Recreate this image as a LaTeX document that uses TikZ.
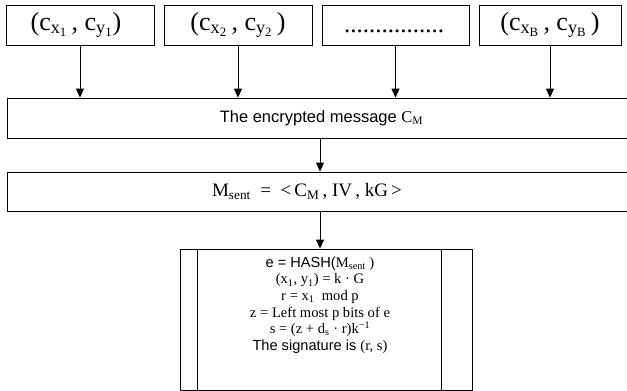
\documentclass[tikz,border=0pt]{standalone}
\usepackage{fontspec}
\setmainfont{Liberation Serif}
\newfontfamily\arialf{Liberation Sans}
\usetikzlibrary{arrows.meta}
\newcommand{\sbs}[1]{\textsubscript{#1}}
\newcommand{\sps}[1]{\textsuperscript{#1}}
\begin{document}
\begin{tikzpicture}[x=1pt,y=-1pt,line width=0.8pt,
  box/.style={draw,inner sep=0pt,minimum height=40pt},
  topbox/.style={box,minimum width=148pt},
  wide/.style={box,minimum width=625pt},
  toptext/.style={font=\fontsize{26}{30}\selectfont},
  arr/.style={-{Triangle[length=9pt,width=8pt]}}]
\useasboundingbox (0,0) rectangle (627,391);
% top boxes
\node[topbox] (b1) at (80,25) {};
\node[topbox] (b2) at (238,25) {};
\node[topbox,minimum width=147pt] (b3) at (395.5,25) {};
\node[topbox,minimum width=142pt] (b4) at (550,25) {};
\node[toptext] (t1) at (76,25) {(c\sbs{x\sbs{1}}\,, c\sbs{y\sbs{1}})};
\node[toptext] (t2) at (238,25) {(c\sbs{x\sbs{2}}\,, c\sbs{y\sbs{2}}\,)};
\node[font=\fontsize{25}{30}\selectfont] (t3) at (394,31) {................};
\node[toptext] (t4) at (550,25) {(c\sbs{x\sbs{B}}\,, c\sbs{y\sbs{B}}\,)};
% encrypted message
\node[wide] (enc) at (319.5,118) {};
\node[font=\fontsize{16.5}{19}\selectfont] (enct) at (321.5,118) {{\arialf The encrypted message }C\sbs{M}};
% M sent
\node[wide,minimum height=39pt] (ms) at (319.5,191.5) {};
\node[font=\fontsize{19}{22}\selectfont] (mst) at (307,191.5) {M\sbs{sent}\ \ =\ \ {<}\,C\sbs{M}\,, IV\,, kG\,{>}};
% bottom box
\node[box,minimum width=292pt,minimum height=141pt] (sig) at (326,319.5) {};
\coordinate (il) at (197,249);
\coordinate (ir) at (441,249);
\coordinate (ax) at (320,0);
\draw (il) -- (il |- sig.south);
\draw (ir) -- (ir |- sig.south);
\node[align=center,font=\fontsize{14.6}{16.6}\selectfont] (sigt) at (320,305) {%
{\arialf e = HASH(}M\sbs{sent} )\\
(x\sbs{1}, y\sbs{1}) = k · G\\
r = x\sbs{1}\ \ mod p\\
z = Left most p bits of e\\
s = (z + d\sbs{s} · r)k\sps{−1}\\
{\arialf The signature is }(r, s)};
% arrows
\draw[arr] (b1.south) -- (b1.south |- enc.north);
\draw[arr] (b2.south) -- (b2.south |- enc.north);
\draw[arr] (b3.south) -- (b3.south |- enc.north);
\draw[arr] (b4.south) -- (b4.south |- enc.north);
\draw[arr] (enc.south -| ax) -- (ms.north -| ax);
\draw[arr] (ms.south -| ax) -- (sig.north -| ax);
\end{tikzpicture}
\end{document}
